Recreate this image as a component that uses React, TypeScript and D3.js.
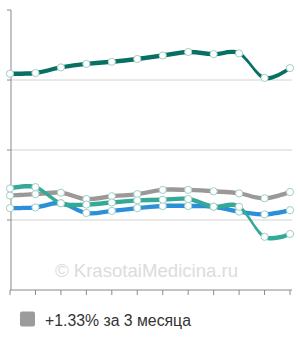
import * as d3 from 'd3';
import React from 'react';

// 12 points along x, no labels on the chart
const months = ['1', '2', '3', '4', '5', '6', '7', '8', '9', '10', '11', '12'];
const yTicks = [0, 1, 2, 3, 4];

// series values (arbitrary units, gridlines at whole numbers)
const darkTeal = [3.09, 3.10, 3.18, 3.23, 3.26, 3.30, 3.35, 3.40, 3.37, 3.38, 3.03, 3.17];
const grey = [1.35, 1.37, 1.39, 1.30, 1.34, 1.37, 1.43, 1.43, 1.41, 1.38, 1.31, 1.40];
const turquoise = [1.45, 1.47, 1.24, 1.22, 1.25, 1.28, 1.29, 1.30, 1.19, 1.19, 0.76, 0.80];
const blue = [1.17, 1.18, 1.24, 1.10, 1.13, 1.17, 1.20, 1.20, 1.19, 1.12, 1.08, 1.14];

const legendText = '+1.33% за 3 месяца';
const watermark = '© KrasotaiMedicina.ru';

const series = [
    { name: 'teal', values: darkTeal, color: '#0a6f63' },
    { name: 'grey', values: grey, color: '#9b9898' },
    { name: 'blue', values: blue, color: '#2b8fd9' },
    { name: 'turq', values: turquoise, color: '#34a996' },
];

export default function App() {
    const width = 300;
    const height = 340;

    const x = d3.scalePoint<string>().domain(months).range([10, 290]);
    const y = d3.scaleLinear().domain([0, 4]).range([290, 10]);

    // the lines are drawn as thin bands, so steep parts look thinner
    const band = d3.area<number>()
        .x((d, i) => x(months[i]) as number)
        .y0(d => y(d) + 2.2)
        .y1(d => y(d) - 2.2)
        .curve(d3.curveCardinal);

    return (
        <svg width={width} height={height}
            style={{ position: 'absolute', left: 0, top: 0, fontFamily: '"Liberation Sans", Arial, sans-serif' }}>
            <rect width={width} height={height} fill='#fff' />

            {/* gridlines */}
            {yTicks.slice(1, 4).map(t => (
                <line key={t} x1={11} x2={292} y1={y(t)} y2={y(t)} stroke='#d2d2d2' strokeWidth={1} />
            ))}

            {/* y axis */}
            <line x1={11} x2={11} y1={y(4)} y2={y(0)} stroke='#8a8a8a' strokeWidth={1} />
            {yTicks.slice(1).map(t => (
                <line key={t} x1={7} x2={11} y1={y(t)} y2={y(t)} stroke='#8a8a8a' strokeWidth={1} />
            ))}

            {/* x axis */}
            <line x1={10} x2={292} y1={y(0)} y2={y(0)} stroke='#8a8a8a' strokeWidth={1} />
            {months.map(m => (
                <line key={m} x1={x(m)} x2={x(m)} y1={y(0)} y2={y(0) + 5} stroke='#8a8a8a' strokeWidth={1} />
            ))}

            <text x={146.5} y={277} textAnchor='middle' fontSize={18.6} fill='#dcdcdc'>{watermark}</text>

            {series.map(s => (
                <g key={s.name}>
                    <path d={band(s.values) || ''} fill={s.color} />
                    {s.values.map((v, i) => (
                        <circle key={i} cx={x(months[i])} cy={y(v)} r={3.6}
                            fill='#fff' stroke='#9fcfc6' strokeWidth={1} />
                    ))}
                </g>
            ))}

            {/* legend */}
            <rect x={20} y={311.5} width={15} height={15} rx={2} fill='#9b9b9b' />
            <text x={45} y={325.5} fontSize={15.8} fill='#333'>{legendText}</text>
        </svg>
    );
}
